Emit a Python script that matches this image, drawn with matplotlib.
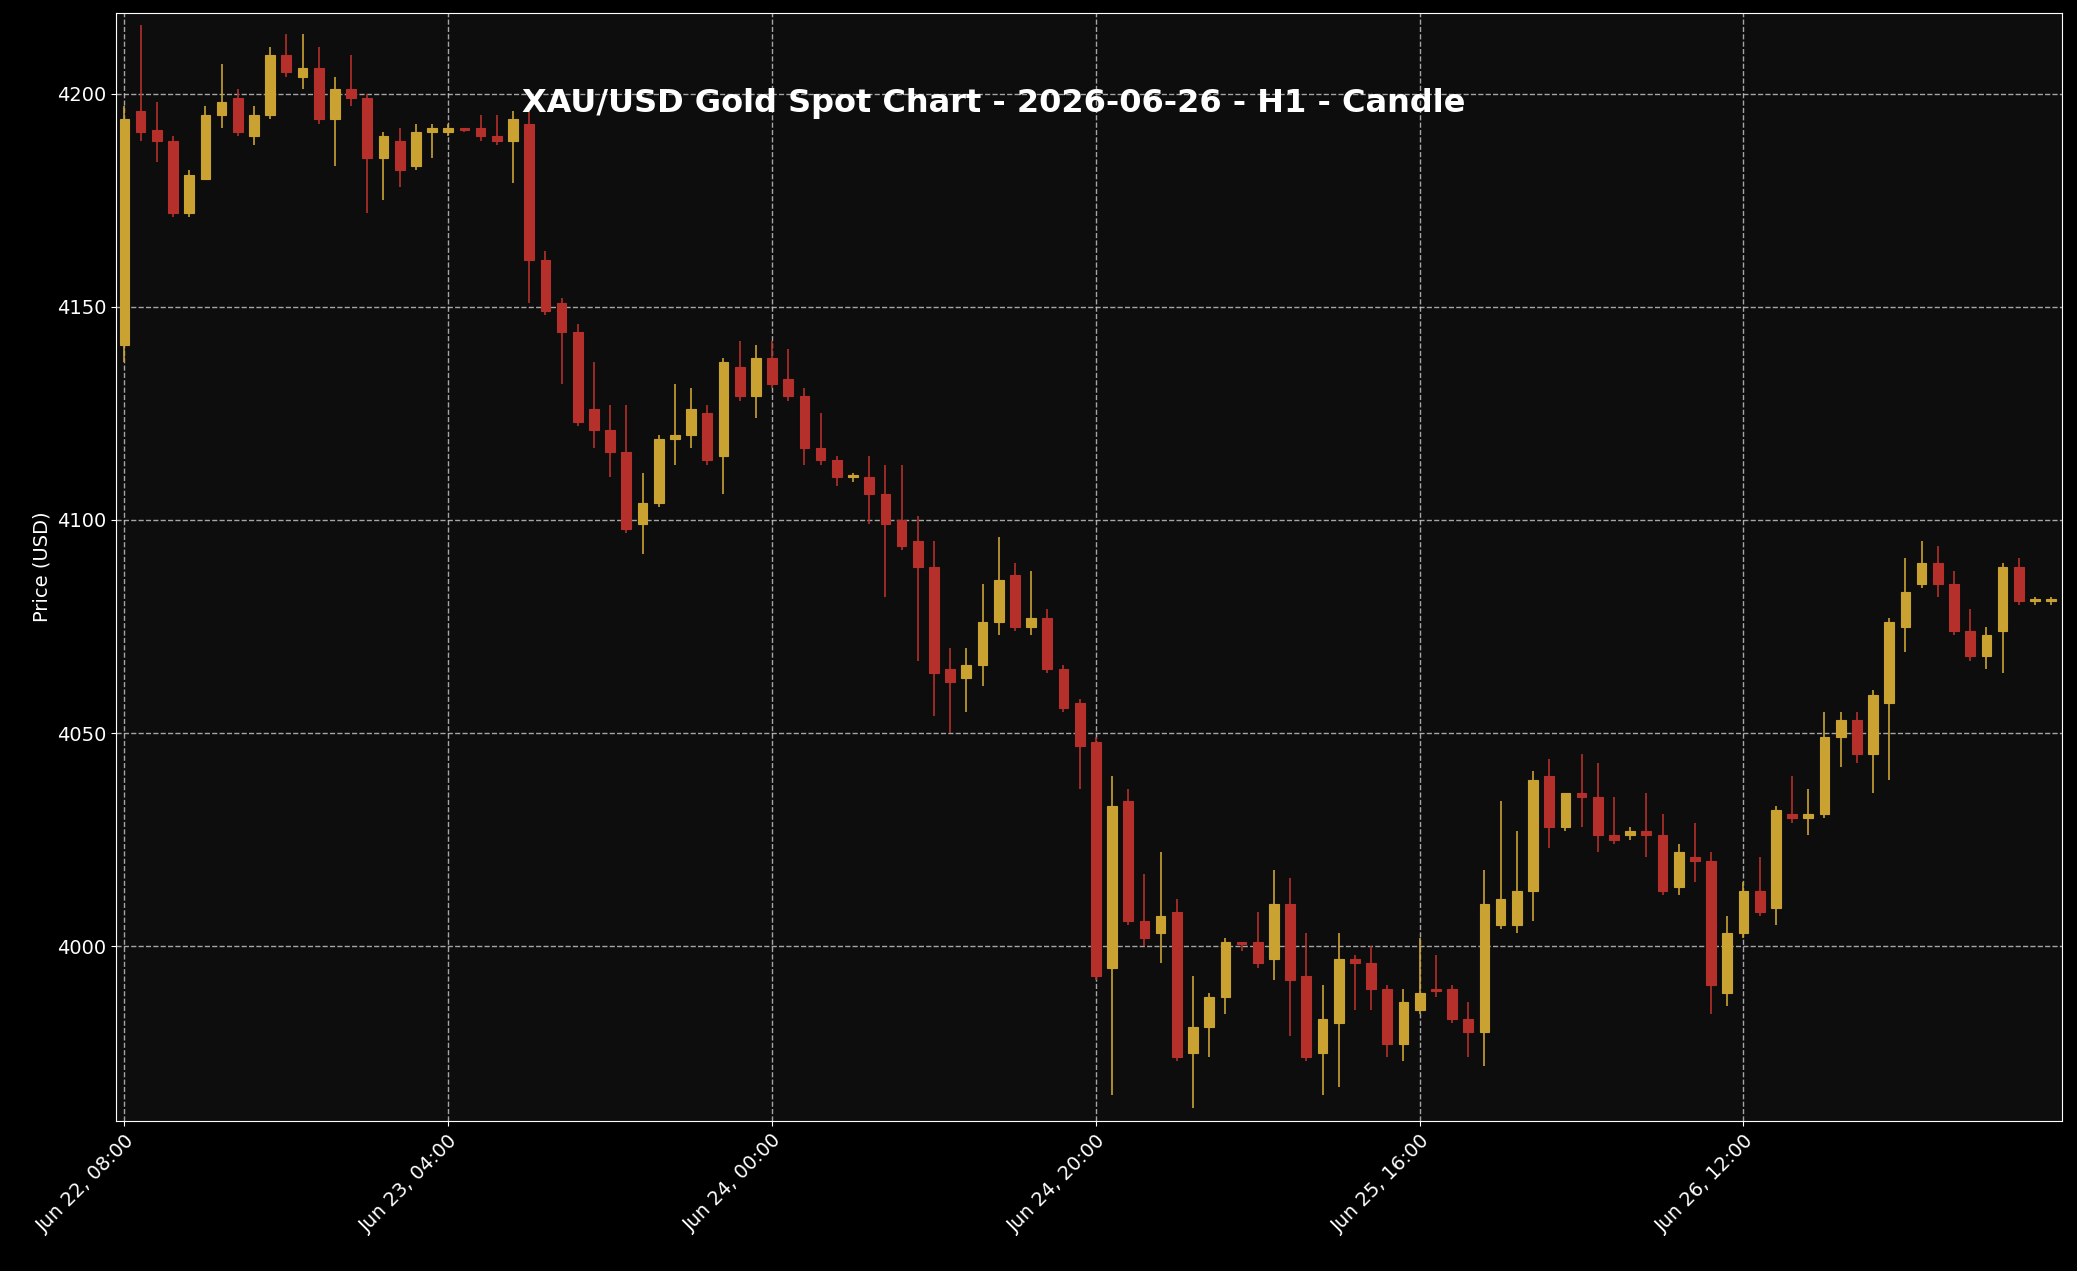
import matplotlib
matplotlib.use("Agg")
import matplotlib.pyplot as plt
import numpy as np
import pandas as pd

# hourly candles, values
opens = [4141,4196,4191.6,4189,4172,4180,4195,4199,4190,4195,4209,4204,4206,4194,4201,4199,4185,4189,4183,4191,
         4191,4192,4192,4190,4189,4193,4161,4151,4144,4126,4121,4116,4099,4104,4119,4120,4125,4115,4136,4129,
         4138,4133,4129,4117,4114,4110,4110,4106,4100,4095,4089,4065,4063,4066,4076,4087,4075,4077,4065,4057,
         4048,3995,4034,4006,4003,4008,3975,3981,3988,4001,4001,3997,4010,3993,3975,3982,3997,3996,3990,3977,
         3985,3990,3990,3983,3980,4005,4005,4013,4040,4028,4036,4035,4026,4026,4027,4026,4014,4021,4020,3989,
         4003,4013,4009,4031,4030,4031,4049,4053,4045,4057,4075,4085,4090,4085,4074,4068,4074,4089,4081,4081]
closes = [4194,4191,4188.8,4172,4181,4195,4198,4191,4195,4209,4205,4206,4194,4201,4199,4185,4190,4182,4191,4192,
          4192,4191.6,4190,4189,4194,4161,4149,4144,4123,4121,4116,4098,4104,4119,4120,4126,4114,4137,4129,4138,
          4132,4129,4117,4114,4110,4110.5,4106,4099,4094,4089,4064,4062,4066,4076,4086,4075,4077,4065,4056,4047,
          3993,4033,4006,4002,4007,3974,3981,3988,4001,4000.5,3996,4010,3992,3974,3983,3997,3996,3990,3977,3987,
          3989,3989.5,3983,3980,4010,4011,4013,4039,4028,4036,4035,4026,4025,4027,4026,4013,4022,4020,3991,4003,
          4013,4008,4032,4030,4031,4049,4053,4045,4059,4076,4083,4090,4085,4074,4068,4073,4089,4081,4081,4081]
highs = [4197,4216,4198,4190,4182,4197,4207,4201,4197,4211,4214,4214,4211,4204,4209,4200,4191,4192,4193,4193,
         4193,4192,4195,4195,4196,4196,4163,4152,4146,4137,4127,4127,4111,4120,4132,4131,4127,4138,4142,4141,
         4142,4140,4131,4125,4115,4111,4115,4113,4113,4101,4095,4070,4070,4085,4096,4090,4088,4079,4066,4058,
         4049,4040,4037,4017,4022,4011,3993,3989,4002,4001,4008,4018,4016,4003,3991,4003,3998,4000,3991,3990,
         4002,3998,3991,3987,4018,4034,4027,4041,4044,4036,4045,4043,4035,4028,4036,4031,4024,4029,4022,4007,
         4015,4021,4033,4040,4037,4055,4055,4055,4060,4077,4091,4095,4094,4088,4079,4075,4090,4091,4082,4082]
lows = [4137,4189,4184,4171,4171,4180,4192,4190,4188,4194,4204,4201,4193,4183,4197,4172,4175,4178,4182,4185,
        4190,4191,4189,4188,4179,4151,4148,4132,4122,4117,4110,4097,4092,4103,4113,4117,4113,4106,4128,4124,
        4131,4128,4113,4113,4108,4109,4099,4082,4093,4067,4054,4050,4055,4061,4073,4074,4073,4064,4055,4037,
        3992,3965,4005,4000,3996,3973,3962,3974,3984,3999,3995,3992,3979,3973,3965,3967,3985,3985,3974,3973,
        3984,3988,3982,3974,3972,4004,4003,4006,4023,4027,4028,4022,4024,4025,4021,4012,4012,4015,3984,3986,
        4002,4007,4005,4029,4026,4030,4042,4043,4036,4039,4069,4084,4082,4073,4067,4065,4064,4080,4080,4080]

times = pd.date_range("2026-06-22 08:00", periods=len(opens), freq="h")

UP = "#c9a232"
DOWN = "#b5302a"

fig = plt.figure(figsize=(20.77, 12.71), dpi=100, facecolor="black")
ax = fig.add_axes([0.056, 0.118, 0.937, 0.872])
ax.set_facecolor("#0d0d0d")

x = np.arange(len(opens))
for i in x:
	o, c, h, l = opens[i], closes[i], highs[i], lows[i]
	col = UP if c >= o else DOWN
	ax.vlines(i, l, h, color=col, linewidth=1.2, zorder=2)
	body = max(abs(c - o), 0.4)
	ax.bar(i, body, bottom=min(o, c), width=0.6, color=col, edgecolor=col, linewidth=0.8, zorder=3)

ax.set_xlim(-0.5, len(opens) - 0.5 + 0.2)
ax.set_ylim(3959, 4219)
ticks = x[::20]
ax.set_xticks(ticks)
ax.set_xticklabels([times[i].strftime("%b %d, %H:%M") for i in ticks], rotation=45, ha="right",
	rotation_mode="anchor", color="white", fontsize=14)
ax.set_yticks([4000, 4050, 4100, 4150, 4200])
ax.tick_params(axis="y", colors="white", labelsize=14)
ax.tick_params(axis="x", colors="white")
ax.grid(True, color="#cccccc", linestyle="--", linewidth=1.0, alpha=0.8, zorder=0)
ax.set_axisbelow(True)
for s in ax.spines.values():
	s.set_color("white")
ax.set_ylabel("Price (USD)", color="white", fontsize=14)
ax.text(0.451, 0.918, "XAU/USD Gold Spot Chart - 2026-06-26 - H1 - Candle", transform=ax.transAxes,
	ha="center", va="center", color="white", fontsize=23, fontweight="bold")

fig.savefig("out.png", facecolor=fig.get_facecolor())
